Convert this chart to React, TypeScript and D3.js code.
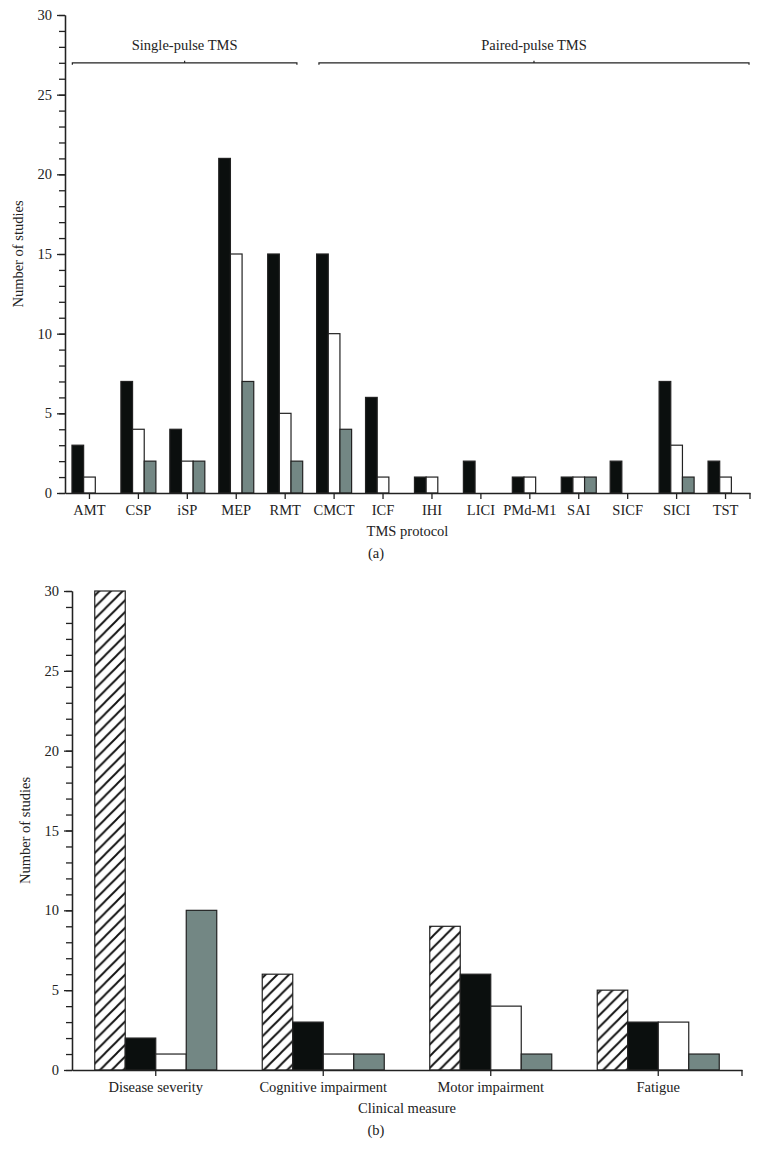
import React, { useEffect, useRef } from "react";
import * as d3 from "d3";

const FONT = "'Liberation Serif', 'DejaVu Serif', serif";
const FS = 14.5;

// (a) TMS protocols
const protocols = ["AMT", "CSP", "iSP", "MEP", "RMT", "CMCT", "ICF", "IHI", "LICI", "PMd-M1", "SAI", "SICF", "SICI", "TST"];
const protocolBlack = [3, 7, 4, 21, 15, 15, 6, 1, 2, 1, 1, 2, 7, 2];
const protocolWhite = [1, 4, 2, 15, 5, 10, 1, 1, 0, 1, 1, 0, 3, 1];
const protocolGray = [0, 2, 2, 7, 2, 4, 0, 0, 0, 0, 1, 0, 1, 0];
const protocolGroups = [
  { label: "Single-pulse TMS", from: "AMT", to: "RMT" },
  { label: "Paired-pulse TMS", from: "CMCT", to: "TST" },
];

// (b) clinical measures
const measures = ["Disease severity", "Cognitive impairment", "Motor impairment", "Fatigue"];
const measureHatched = [30, 6, 9, 5];
const measureBlack = [2, 3, 6, 3];
const measureWhite = [1, 1, 4, 3];
const measureGray = [10, 1, 1, 1];

const yMax = 30;
const yMajorTicks = [0, 5, 10, 15, 20, 25, 30];

const BLACK = "#0b0f0e";
const GRAY = "#738784";
const LINE = "#222";

type Series = { values: number[]; fill: string };

const YAxis = ({ scale, x }: { scale: d3.ScaleLinear<number, number>; x: number }) => {
  const ref = useRef<SVGGElement>(null);
  useEffect(() => {
    const g = d3.select(ref.current);
    g.selectAll("*").remove();
    g.append("g").call(
      d3.axisLeft(scale).tickValues(d3.range(0, yMax + 1)).tickSize(6).tickSizeOuter(0).tickFormat(() => "")
    );
    g.append("g").call(
      d3.axisLeft(scale).tickValues(yMajorTicks).tickSize(8).tickSizeOuter(0).tickPadding(5)
    );
    g.selectAll("path.domain, line").attr("stroke", LINE).attr("stroke-width", 1.3);
    g.selectAll("text").attr("font-family", FONT).attr("font-size", FS).attr("fill", LINE);
  }, [scale]);
  return <g ref={ref} transform={`translate(${x},0)`} />;
};

const XAxis = ({ scale, y }: { scale: d3.ScaleBand<string>; y: number }) => {
  const ref = useRef<SVGGElement>(null);
  useEffect(() => {
    const g = d3.select(ref.current);
    g.selectAll("*").remove();
    g.call(d3.axisBottom(scale).tickSize(6).tickSizeOuter(0).tickPadding(6));
    const end = scale.range()[1];
    g.append("line").attr("x1", end).attr("x2", end).attr("y1", 0).attr("y2", 6);
    g.selectAll("path.domain, line").attr("stroke", LINE).attr("stroke-width", 1.3);
    g.selectAll("text").attr("font-family", FONT).attr("font-size", FS).attr("fill", LINE);
  }, [scale]);
  return <g ref={ref} transform={`translate(0,${y})`} />;
};

const Panel = ({
  categories,
  series,
  left,
  right,
  top,
  bottom,
  groupHalf,
  xTitle,
  yTitleX,
  tag,
  children,
}: {
  categories: string[];
  series: Series[];
  left: number;
  right: number;
  top: number;
  bottom: number;
  groupHalf: number;
  xTitle: string;
  yTitleX: number;
  tag: string;
  children?: (x: d3.ScaleBand<string>, y: d3.ScaleLinear<number, number>) => React.ReactNode;
}) => {
  const xScale = d3.scaleBand<string>().domain(categories).range([left, right]).padding(0);
  const yScale = d3.scaleLinear().domain([0, yMax]).range([bottom, top]);
  const inner = d3
    .scaleBand<number>()
    .domain(d3.range(series.length))
    .range([-groupHalf, groupHalf])
    .padding(0);
  const mid = (left + right) / 2;

  return (
    <g>
      {categories.map((c, i) => {
        const cx = (xScale(c) as number) + xScale.bandwidth() / 2;
        return series.map((s, j) =>
          s.values[i] > 0 ? (
            <rect
              key={`${c}-${j}`}
              x={cx + (inner(j) as number)}
              y={yScale(s.values[i])}
              width={inner.bandwidth()}
              height={yScale(0) - yScale(s.values[i])}
              fill={s.fill}
              stroke={LINE}
              strokeWidth={1.2}
            />
          ) : null
        );
      })}
      {children && children(xScale, yScale)}
      <XAxis scale={xScale} y={bottom} />
      <YAxis scale={yScale} x={left} />
      <text
        transform={`translate(${yTitleX},${(top + bottom) / 2}) rotate(-90)`}
        textAnchor="middle"
        fontFamily={FONT}
        fontSize={FS}
        fill={LINE}
      >
        Number of studies
      </text>
      <text x={mid} y={bottom + 43} textAnchor="middle" fontFamily={FONT} fontSize={FS} fill={LINE}>
        {xTitle}
      </text>
      <text x={376} y={bottom + 65} textAnchor="middle" fontFamily={FONT} fontSize={FS} fill={LINE}>
        {tag}
      </text>
    </g>
  );
};

export default function App() {
  const topSeries: Series[] = [
    { values: protocolBlack, fill: BLACK },
    { values: protocolWhite, fill: "#fff" },
    { values: protocolGray, fill: GRAY },
  ];
  const bottomSeries: Series[] = [
    { values: measureHatched, fill: "url(#hatch)" },
    { values: measureBlack, fill: BLACK },
    { values: measureWhite, fill: "#fff" },
    { values: measureGray, fill: GRAY },
  ];

  return (
    <svg
      width={761}
      height={1169}
      style={{ position: "absolute", left: 0, top: 0, background: "#fff" }}
    >
      <defs>
        <pattern id="hatch" patternUnits="userSpaceOnUse" width={11.7} height={11.7}>
          <rect width={11.7} height={11.7} fill="#fff" />
          <path
            d="M-3,3 L3,-3 M0,11.7 L11.7,0 M8.7,14.7 L14.7,8.7"
            stroke="#111"
            strokeWidth={1.9}
          />
        </pattern>
      </defs>

      <Panel
        categories={protocols}
        series={topSeries}
        left={65}
        right={750}
        top={15}
        bottom={493}
        groupHalf={17.5}
        xTitle="TMS protocol"
        yTitleX={23}
        tag="(a)"
      >
        {(x, y) =>
          protocolGroups.map((grp, i) => {
            const bw = x.bandwidth();
            const x0 = (x(grp.from) as number) + (i === 0 ? 0.15 : 0.19) * bw;
            const x1 = (x(grp.to) as number) + (i === 0 ? 0.74 : 0.98) * bw;
            const yb = y(27);
            const xm = (x0 + x1) / 2;
            return (
              <g key={grp.label}>
                <path
                  d={`M${x0},${yb + 2}V${yb}H${x1}V${yb + 2}M${xm},${yb}V${yb - 2}`}
                  fill="none"
                  stroke={LINE}
                  strokeWidth={1.2}
                />
                <text x={xm} y={yb - 13} textAnchor="middle" fontFamily={FONT} fontSize={FS} fill={LINE}>
                  {grp.label}
                </text>
              </g>
            );
          })
        }
      </Panel>

      <Panel
        categories={measures}
        series={bottomSeries}
        left={72}
        right={742}
        top={591}
        bottom={1070}
        groupHalf={61}
        xTitle="Clinical measure"
        yTitleX={30}
        tag="(b)"
      />
    </svg>
  );
}
